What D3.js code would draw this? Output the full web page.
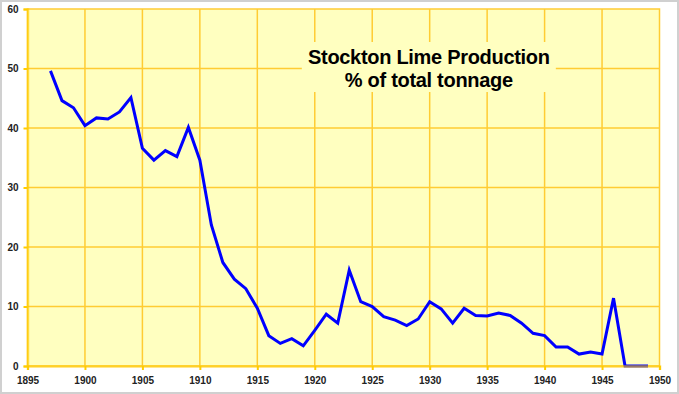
<!DOCTYPE html>
<html>
<head>
<meta charset="utf-8">
<script src="https://cdn.jsdelivr.net/npm/d3@7"></script>
<style>
  body { margin: 0; background: #fff; }
  svg { display: block; font-family: "Liberation Sans", Arial, sans-serif; }
</style>
</head>
<body>
<script>
// years and % of total tonnage
var years = d3.range(1897, 1950)
var pct = [49.6, 44.6, 43.4, 40.4, 41.7, 41.5, 42.7, 45.1, 36.6, 34.6,
  36.2, 35.2, 40.1, 34.6, 23.7, 17.4, 14.6, 13.0, 9.7, 5.1,
  3.8, 4.6, 3.4, 6.0, 8.7, 7.2, 16.1, 10.8, 10.0, 8.3,
  7.7, 6.8, 7.9, 10.8, 9.6, 7.2, 9.7, 8.5, 8.4, 8.9,
  8.5, 7.2, 5.5, 5.1, 3.2, 3.2, 2.0, 2.35, 2.0, 11.4,
  0, 0, 0]
var xTicks = d3.range(1895, 1951, 5)
var yTicks = [0, 10, 20, 30, 40, 50, 60]
var titleLines = ["Stockton Lime Production", "% of total tonnage"]

var W = 679, H = 394
var margin = { top: 9, right: 19.5, bottom: 28, left: 27.5 }
var width = W - margin.left - margin.right,
    height = H - margin.top - margin.bottom

var svg = d3.select('body').append('svg')
  .attr('width', W).attr('height', H)

// outer frame
svg.append('rect')
  .attr('x', 1).attr('y', 1).attr('width', W - 2).attr('height', H - 2)
  .attr('fill', '#fff').attr('stroke', '#d0d0d0').attr('stroke-width', 2)

var g = svg.append('g')
  .attr('transform', 'translate(' + margin.left + ',' + margin.top + ')')

var x = d3.scaleLinear().domain([1895, 1950]).range([0, width])
var y = d3.scaleLinear().domain([0, 60]).range([height, 0])

g.append('rect')
  .attr('width', width).attr('height', height)
  .attr('fill', '#FFFFC0')
  .attr('stroke', '#FFCC33').attr('stroke-width', 1.5)

// grid
g.append('g').selectAll('line').data(xTicks.slice(1, -1)).join('line')
  .attr('x1', d => x(d)).attr('x2', d => x(d))
  .attr('y1', 0).attr('y2', height)
  .attr('stroke', '#FFCC33').attr('stroke-width', 1.5)
g.append('g').selectAll('line').data(yTicks.slice(1, -1)).join('line')
  .attr('x1', 0).attr('x2', width)
  .attr('y1', d => y(d)).attr('y2', d => y(d))
  .attr('stroke', '#FFCC33').attr('stroke-width', 1.5)

// title box hides the grid behind it
var title = g.append('g')
  .attr('transform', 'translate(' + (width * 0.635) + ',0)')
title.append('rect')
  .attr('x', -127).attr('y', 33).attr('width', 254).attr('height', 50)
  .attr('fill', '#FFFFC0')
title.selectAll('text').data(titleLines).join('text')
  .attr('x', 0).attr('y', (d, i) => 55 + i * 23)
  .attr('text-anchor', 'middle')
  .attr('font-size', 20).attr('font-weight', 'bold')
  .attr('letter-spacing', -0.3)
  .attr('fill', '#000')
  .text(d => d)

// series
var line = d3.line()
  .x((d, i) => x(years[i]))
  .y(d => y(d))
g.append('path')
  .datum(pct)
  .attr('fill', 'none')
  .attr('stroke', '#0000FF')
  .attr('stroke-width', 3)
  .attr('stroke-linejoin', 'miter')
  .attr('d', line)

// axes
var xAxis = d3.axisBottom(x).tickValues(xTicks).tickSize(4).tickFormat(d3.format('d'))
var yAxis = d3.axisLeft(y).tickValues(yTicks).tickSize(4)

var gx = g.append('g').attr('transform', 'translate(0,' + height + ')').call(xAxis)
var gy = g.append('g').call(yAxis)

;[gx, gy].forEach(function (a) {
  a.select('.domain').attr('stroke', '#FFCC00').attr('stroke-width', 2.5).attr('opacity', 0.6)
  a.selectAll('.tick line').attr('stroke', '#FFCC00').attr('stroke-width', 2)
  a.selectAll('.tick text')
    .attr('fill', '#222')
    .attr('font-size', 10).attr('font-weight', 'bold')
    .attr('font-family', '"Liberation Sans", Arial, sans-serif')
})
gx.selectAll('.tick text').attr('dy', '0.71em').attr('y', 11)
gy.selectAll('.tick text').attr('x', -9)
</script>
</body>
</html>
